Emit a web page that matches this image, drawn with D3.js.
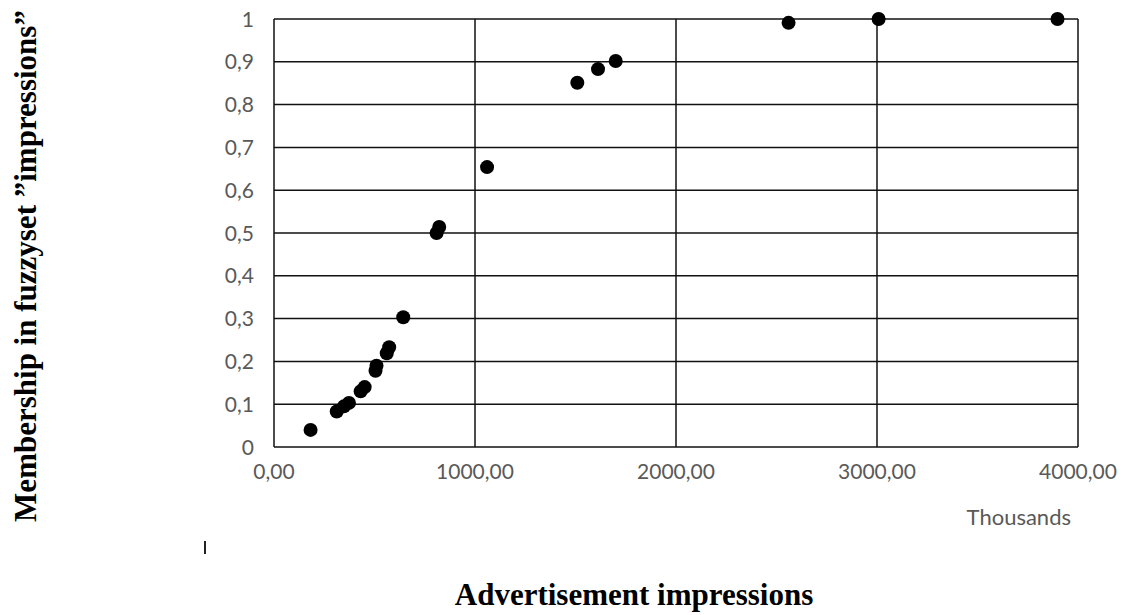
<!DOCTYPE html>
<html>
<head>
<meta charset="utf-8">
<script src="https://cdn.jsdelivr.net/npm/d3@7"></script>
<style>
  body { margin: 0; background: #fff; }
  svg { display: block; }
</style>
</head>
<body>
<div id="chart"></div>
<script>
// impressions in thousands, membership in fuzzy set
const impressions = [182, 312, 348, 373, 431, 451, 505, 510, 561, 573, 643, 809, 822, 1060, 1509, 1612, 1700, 2560, 3008, 3898];
const membership  = [0.04, 0.083, 0.095, 0.103, 0.13, 0.14, 0.178, 0.19, 0.219, 0.233, 0.303, 0.5, 0.514, 0.654, 0.851, 0.883, 0.902, 0.991, 1.0, 1.0];
const xTicks = [0, 1000, 2000, 3000, 4000];
const yTicks = [0, 0.1, 0.2, 0.3, 0.4, 0.5, 0.6, 0.7, 0.8, 0.9, 1];

const width = 1123, height = 615;
const margin = {top: 19, right: 45, bottom: 168, left: 274};

const svg = d3.select("#chart")
    .append("svg")
    .attr("width", width)
    .attr("height", height);

const x = d3.scaleLinear()
    .domain([0, 4000])
    .range([margin.left, width - margin.right]);

const y = d3.scaleLinear()
    .domain([0, 1])
    .range([height - margin.bottom, margin.top]);

// gridlines
svg.append("g")
    .selectAll("line")
    .data(yTicks)
    .join("line")
    .attr("x1", x(0)).attr("x2", x(4000))
    .attr("y1", d => y(d)).attr("y2", d => y(d))
    .attr("stroke", "#111").attr("stroke-width", 1.5);

svg.append("g")
    .selectAll("line")
    .data(xTicks)
    .join("line")
    .attr("x1", d => x(d)).attr("x2", d => x(d))
    .attr("y1", y(0)).attr("y2", y(1))
    .attr("stroke", "#111").attr("stroke-width", 1.5);

// tick labels
const tickFont = "Lato, 'Open Sans', sans-serif";
svg.append("g")
    .selectAll("text")
    .data(yTicks)
    .join("text")
    .attr("x", x(0) - 20)
    .attr("y", d => y(d))
    .attr("dy", "0.36em")
    .attr("text-anchor", "end")
    .attr("font-family", tickFont)
    .attr("font-size", 21)
    .attr("fill", "#595959")
    .text(d => d === 0 || d === 1 ? String(d) : String(d).replace(".", ","));

svg.append("g")
    .selectAll("text")
    .data(xTicks)
    .join("text")
    .attr("x", d => x(d))
    .attr("y", y(0) + 32)
    .attr("text-anchor", "middle")
    .attr("font-family", tickFont)
    .attr("font-size", 21)
    .attr("fill", "#595959")
    .text(d => d3.format(".2f")(d).replace(".", ","));

svg.append("text")
    .attr("x", 1071)
    .attr("y", 525)
    .attr("text-anchor", "end")
    .attr("font-family", tickFont)
    .attr("font-size", 22)
    .attr("fill", "#595959")
    .text("Thousands");

// points
svg.append("g")
    .selectAll("circle")
    .data(impressions.map((d, i) => ({x: d, y: membership[i]})))
    .join("circle")
    .attr("cx", d => x(d.x))
    .attr("cy", d => y(d.y))
    .attr("r", 7)
    .attr("fill", "#000");

// axis titles
const titleFont = "'Liberation Serif', 'Times New Roman', serif";
svg.append("text")
    .attr("transform", "translate(36,266) rotate(-90)")
    .attr("text-anchor", "middle")
    .attr("font-family", titleFont)
    .attr("font-weight", "bold")
    .attr("font-size", 31)
    .attr("fill", "#000")
    .text("Membership in fuzzyset \u201Dimpressions\u201D");

svg.append("text")
    .attr("x", 634)
    .attr("y", 605)
    .attr("text-anchor", "middle")
    .attr("font-family", titleFont)
    .attr("font-weight", "bold")
    .attr("font-size", 31)
    .attr("fill", "#000")
    .text("Advertisement impressions");

// stray cursor mark
svg.append("line")
    .attr("x1", 205).attr("x2", 205)
    .attr("y1", 541).attr("y2", 554)
    .attr("stroke", "#222").attr("stroke-width", 2);
</script>
</body>
</html>
